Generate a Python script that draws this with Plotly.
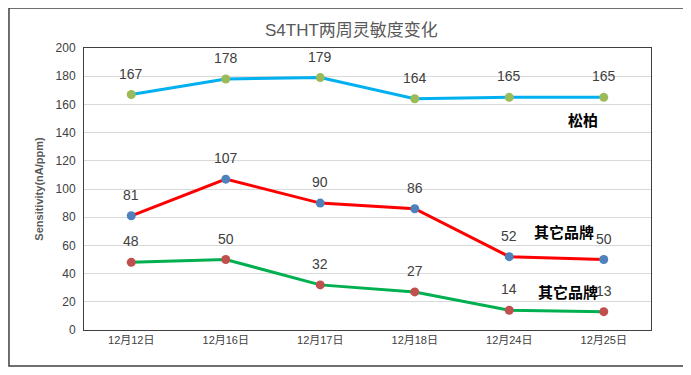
import plotly.graph_objects as go

categories = ["12月12日", "12月16日", "12月17日", "12月18日", "12月24日", "12月25日"]
songbai = [167, 178, 179, 164, 165, 165]
other_red = [81, 107, 90, 86, 52, 50]
other_green = [48, 50, 32, 27, 14, 13]
y_ticks = [0, 20, 40, 60, 80, 100, 120, 140, 160, 180, 200]

series = [
    (songbai, "#00B0F0", "#9BBB59", "松柏"),
    (other_red, "#FF0000", "#4F81BD", "其它品牌"),
    (other_green, "#00B050", "#C0504D", "其它品牌"),
]

fig = go.Figure()
annotations = []
for vals, lc, mc, name in series:
    fig.add_trace(go.Scatter(
        x=categories, y=vals, mode="lines+markers", name=name,
        line=dict(color=lc, width=3),
        marker=dict(color=mc, size=9),
        showlegend=False, hoverinfo="x+y",
    ))
    for c, v in zip(categories, vals):
        annotations.append(dict(
            x=c, y=v, text=str(v), showarrow=False, yshift=21,
            font=dict(family="Liberation Sans, Arial, sans-serif", size=14, color="#404040"),
        ))

label_font = dict(family="Noto Sans CJK SC, sans-serif", size=15, color="#000000")
annotations += [
    dict(xref="paper", yref="y", x=0.880, y=149.6, xanchor="center", yanchor="middle",
         text="<b>松柏</b>", showarrow=False, font=label_font),
    dict(xref="paper", yref="y", x=0.847, y=69.7, xanchor="center", yanchor="middle",
         text="<b>其它品牌</b>", showarrow=False, font=label_font),
    dict(xref="paper", yref="y", x=0.854, y=27.2, xanchor="center", yanchor="middle",
         text="<b>其它品牌</b>", showarrow=False, font=label_font),
]

fig.update_layout(
    width=691, height=375,
    margin=dict(l=76, r=48, t=40, b=53),
    paper_bgcolor="white", plot_bgcolor="white",
    title=dict(text="S4THT两周灵敏度变化", x=0.497, xanchor="center", y=0.94, yanchor="middle",
               font=dict(family="Liberation Sans, Noto Sans CJK SC, sans-serif", size=17, color="#595959")),
    annotations=annotations,
    xaxis=dict(
        type="category", categoryorder="array", categoryarray=categories,
        showgrid=False, showline=True, linecolor="#404040", linewidth=1, mirror=True,
        ticks="", tickfont=dict(family="Liberation Sans, Noto Sans CJK SC, sans-serif", size=11, color="#404040"),
        range=[-0.5, 5.5], fixedrange=True,
    ),
    yaxis=dict(
        range=[0, 200], tickvals=y_ticks, showgrid=True, gridcolor="#D9D9D9", gridwidth=1,
        showline=True, linecolor="#404040", linewidth=1, mirror=True, zeroline=False,
        ticks="", ticklabelstandoff=5,
        tickfont=dict(family="Liberation Sans, Arial, sans-serif", size=12, color="#404040"),
        title=dict(text="<b>Sensitivity(nA/ppm)</b>", standoff=9,
                   font=dict(family="Liberation Sans, Arial, sans-serif", size=11, color="#595959")),
        fixedrange=True,
    ),
    shapes=[dict(type="rect", xref="paper", yref="paper",
                 x0=-0.1323, x1=1.058, y0=-0.1277, y1=1.1418,
                 line=dict(color="#404040", width=1.5), fillcolor="rgba(0,0,0,0)", layer="below")],
)

fig.write_html("out.html")
